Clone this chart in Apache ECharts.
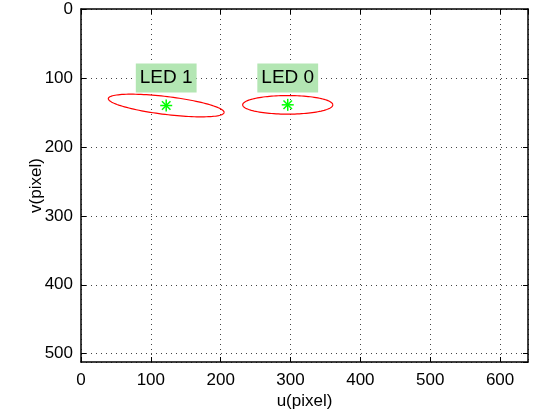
<!DOCTYPE html>
<html>
<head>
<meta charset="utf-8">
<script src="https://cdn.jsdelivr.net/npm/echarts@6/dist/echarts.min.js"></script>
<style>html,body{margin:0;padding:0;background:#fff}#c{width:536px;height:418px}</style>
</head>
<body>
<div id="c"></div>
<script>
// ---- data ----
var ledNames = ['LED 0', 'LED 1'];
var ledU = [296, 122];          // marker u (pixel)
var ledV = [139, 140];          // marker v (pixel)
var labelV = [100, 100];        // label anchor v
var semiMajor = [64.5, 83.5];   // ellipse semi-major axis (data units)
var semiMinor = [13.5, 13];     // ellipse semi-minor axis
var tiltDeg = [0, 7];           // ellipse rotation (deg)
var xTicks = [0, 100, 200, 300, 400, 500, 600];
var yTicks = [0, 100, 200, 300, 400, 500];
var xMax = 640, yMax = 512;

var FONT = 'Liberation Sans, Arial, Helvetica, sans-serif';

var ellipseData = ledNames.map(function (n, i) {
  return [ledU[i], ledV[i], semiMajor[i], semiMinor[i], tiltDeg[i]];
});
var markerData = ledNames.map(function (n, i) { return [ledU[i], ledV[i]]; });
var labelData = ledNames.map(function (n, i) { return { name: n, value: [ledU[i], labelV[i]] }; });

function tickFmt(list) {
  return function (v) { return list.indexOf(v) >= 0 ? String(v) : ''; };
}

var chart = echarts.init(document.getElementById('c'), null, { renderer: 'canvas' });
var axisCommon = {
  axisLine: { show: true, onZero: false, lineStyle: { color: '#000', width: 1.5 } },
  axisTick: { show: true, inside: true, length: 5, lineStyle: { color: '#000', width: 1 } }
};
chart.setOption({
  animation: false,
  backgroundColor: '#fff',
  grid: { left: 81, right: 8, top: 9, bottom: 56, containLabel: false },
  xAxis: [
    Object.assign({
      type: 'value', min: 0, max: xMax, interval: 100, position: 'bottom',
      name: 'u(pixel)', nameLocation: 'middle', nameGap: 31, nameMoveOverlap: false,
      nameTextStyle: { fontFamily: FONT, fontSize: 17, color: '#000' },
      axisLabel: { show: true, margin: 10, fontFamily: FONT, fontSize: 17, color: '#000',
                   showMaxLabel: false, formatter: tickFmt(xTicks) },
      splitLine: { show: true, lineStyle: { color: '#444', type: [1, 4], width: 1 } }
    }, axisCommon),
    Object.assign({
      type: 'value', min: 0, max: xMax, interval: 100, position: 'top',
      axisLabel: { show: false }, splitLine: { show: false }
    }, axisCommon)
  ],
  yAxis: [
    Object.assign({
      type: 'value', min: 0, max: yMax, interval: 100, inverse: true, position: 'left',
      name: 'v(pixel)', nameLocation: 'middle', nameGap: 36, nameMoveOverlap: false,
      nameTextStyle: { fontFamily: FONT, fontSize: 17, color: '#000' },
      axisLabel: { show: true, margin: 8, fontFamily: FONT, fontSize: 17, color: '#000',
                   showMaxLabel: false, formatter: tickFmt(yTicks) },
      splitLine: { show: true, lineStyle: { color: '#444', type: [1, 4], width: 1 } }
    }, axisCommon),
    Object.assign({
      type: 'value', min: 0, max: yMax, interval: 100, inverse: true, position: 'right',
      axisLabel: { show: false }, splitLine: { show: false }
    }, axisCommon)
  ],
  series: [
    {
      type: 'custom', name: 'ellipse', data: ellipseData, clip: true,
      renderItem: function (params, api) {
        var cu = api.value(0), cv = api.value(1), a = api.value(2), b = api.value(3);
        var phi = api.value(4) * Math.PI / 180;
        var pts = [];
        for (var k = 0; k <= 120; k++) {
          var t = 2 * Math.PI * k / 120;
          var du = a * Math.cos(t) * Math.cos(phi) - b * Math.sin(t) * Math.sin(phi);
          var dv = a * Math.cos(t) * Math.sin(phi) + b * Math.sin(t) * Math.cos(phi);
          pts.push(api.coord([cu + du, cv + dv]));
        }
        return { type: 'polyline', shape: { points: pts },
                 style: { stroke: '#ff0000', fill: null, lineWidth: 1.2 } };
      }
    },
    {
      type: 'custom', name: 'marker', data: markerData,
      renderItem: function (params, api) {
        var p = api.coord([api.value(0), api.value(1)]);
        var r = 6, d = r * 0.7071;
        var st = { stroke: '#00ff00', lineWidth: 1.5 };
        return { type: 'group', children: [
          { type: 'line', shape: { x1: p[0] - r, y1: p[1], x2: p[0] + r, y2: p[1] }, style: st },
          { type: 'line', shape: { x1: p[0], y1: p[1] - r, x2: p[0], y2: p[1] + r }, style: st },
          { type: 'line', shape: { x1: p[0] - d, y1: p[1] - d, x2: p[0] + d, y2: p[1] + d }, style: st },
          { type: 'line', shape: { x1: p[0] - d, y1: p[1] + d, x2: p[0] + d, y2: p[1] - d }, style: st }
        ] };
      }
    },
    {
      type: 'scatter', name: 'labels', data: labelData, symbolSize: 0,
      itemStyle: { opacity: 1 },
      label: {
        show: true, position: 'inside', formatter: '{b}', opacity: 1,
        fontFamily: FONT, fontSize: 19, color: '#000',
        backgroundColor: '#b3e6b3', padding: [4, 4, 2, 4], lineHeight: 23
      }
    }
  ]
});
</script>
</body>
</html>
